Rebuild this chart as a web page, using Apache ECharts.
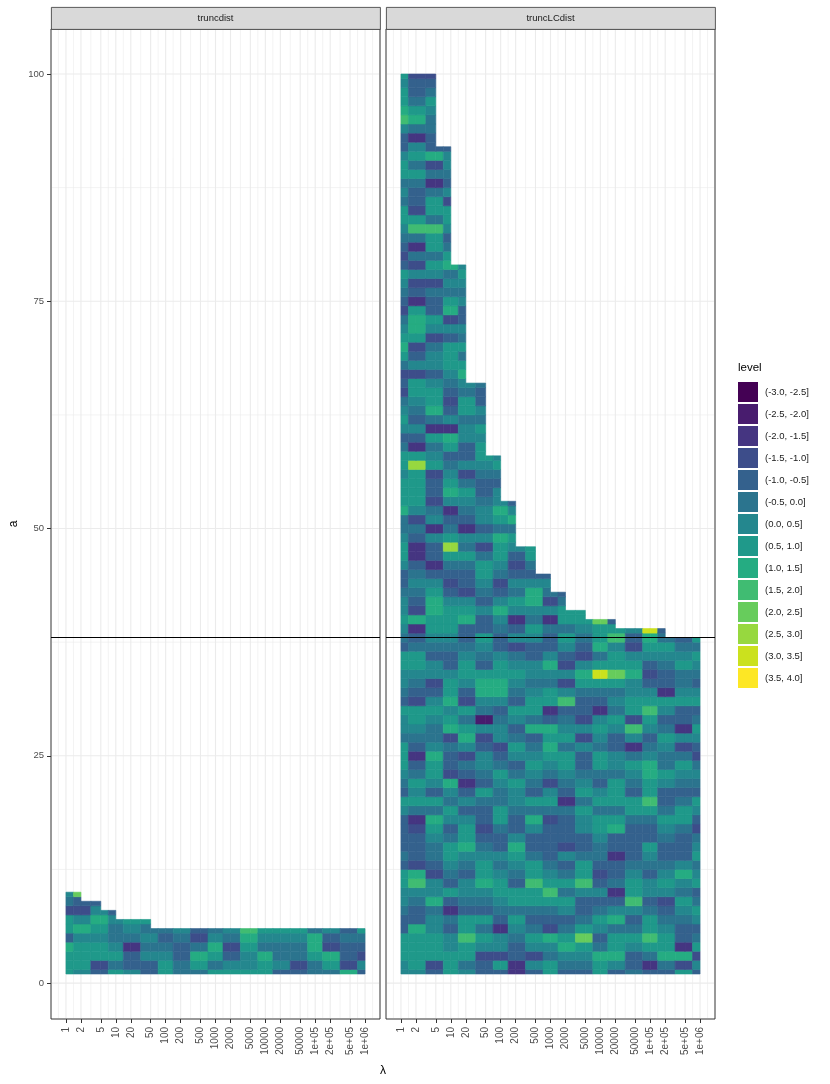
<!DOCTYPE html>
<html>
<head>
<meta charset="utf-8">
<title>truncdist / truncLCdist</title>
<script src="https://cdn.jsdelivr.net/npm/echarts@6/dist/echarts.min.js"></script>
<style>
  html, body { margin: 0; padding: 0; background: #fff; }
  #main { width: 830px; height: 1084px; }
</style>
</head>
<body>
<div id="main"></div>
<script>
// λ breaks (log axis) and their labels
var lambdas = [1, 2, 5, 10, 20, 50, 100, 200, 500, 1000, 2000, 5000, 1e4, 2e4, 5e4, 1e5, 2e5, 5e5, 1e6];
var lambdaLabels = ['1', '2', '5', '10', '20', '50', '100', '200', '500', '1000', '2000', '5000',
  '10000', '20000', '50000', '1e+05', '2e+05', '5e+05', '1e+06'];
var aTicks = [0, 25, 50, 75, 100];
var panelNames = ['truncdist', 'truncLCdist'];
var hlineA = 38;

// highest a for each λ
var topsTrunc = [10, 10, 9, 8, 7, 7, 6, 6, 6, 6, 6, 6, 6, 6, 6, 6, 6, 6, 6];
var topsLC = [100, 100, 100, 92, 79, 66, 58, 53, 48, 45, 43, 41, 40, 40, 39, 39, 39, 38, 38];

// level class of each grid point, one string per λ, a = 1, 2, 3 ... upward
// 0 = (-3.0,-2.5]  1 = (-2.5,-2.0] ... 9 = (1.5,2.0]  a = (2.0,2.5] ... d = (3.5,4.0]
var levelsTrunc = [
  '7778477356', '677768634a', '437767864', '75765564', '6442567', '4465657',
  '776545', '554456', '578534', '757865', '764356', '766789', '778567',
  '465567', '435567', '557885', '578346', '834454', '463457'
];
var levelsLC = [
  '6677744566 7745444467 4567775667 4566774567 6654467765 5877767754 6765343578 7653456743 4567756577 6446987767',
  '6777784456 9834443257 6754245677 3456775428 3456542245 367777b724 6456773643 7887243635 2597344575 7625875443',
  '4377766586 6345567857 4677865567 6436645677 8876424462 6534437657 2587764665 3674453675 7795775253 8445567543',
  '7776645247 4567754675 6834453876 8776445677 7643457b75 4268765478 2643456777 4638756587 5467736456 64',
  '6577977456 6456877646 4245368757 3467765448 7634457562 4567536446 6577568757 564465676',
  '4436757456 8776543445 7456643615 6887456744 6456775364 6654456776 756445',
  '4736624567 7656445775 5675436654 6887764456 8643567785 78664576',
  '2244567577 4567864456 6754675467 4567653642 6756434675 864',
  '4636754577 9775446857 4567654857 7656644675 68864577',
  '7756834579 7654444357 6356787842 7756864452 63564',
  '4568754675 7546344452 4567757654 9636346757 754',
  '4567a75446 9775446675 7654463634 4578634567 7',
  '7785467546 4345567757 6457756762 457c75877a',
  '4687758642 5442448757 7756644675 657a776974',
  '5446754697 7654444577 4567526937 766876346',
  '4257977546 6456744579 7788654679 76434678c',
  '4587765436 7654456754 4675567546 724456754',
  '7382445675 6864445775 4567536244 76557654',
  '4637546754 7657653467 4565346754 76456757'
];

var levelLabels = ['(-3.0, -2.5]', '(-2.5, -2.0]', '(-2.0, -1.5]', '(-1.5, -1.0]', '(-1.0, -0.5]',
  '(-0.5, 0.0]', '(0.0, 0.5]', '(0.5, 1.0]', '(1.0, 1.5]', '(1.5, 2.0]', '(2.0, 2.5]',
  '(2.5, 3.0]', '(3.0, 3.5]', '(3.5, 4.0]'];
var levelColors = ['#440154', '#481C6E', '#453581', '#3D4D8A', '#34618D', '#2B748E', '#24878E',
  '#1F998A', '#25AC82', '#40BC72', '#67CC5C', '#97D83F', '#CBE11E', '#FDE725'];

var FONT = '"Liberation Sans", Arial, sans-serif';
var lambdaPos = lambdas.map(function (l) { return Math.log10(l); });

// grid points -> [log10 λ, a, value, λ index]
function buildCells(levels) {
  var out = [];
  levels.forEach(function (s, i) {
    s = s.replace(/ /g, '');
    for (var k = 0; k < s.length; k++) {
      var lev = parseInt(s.charAt(k), 16);
      out.push([lambdaPos[i], k + 1, -3 + 0.5 * lev + 0.25, i]);
    }
  });
  return out;
}

// each grid point fills half way to its neighbours, clipped to the data region
function heatRenderer(tops) {
  return function (params, api) {
    var i = api.value(3), a = api.value(1);
    var color = api.visual('color');
    var children = [];
    [-1, 1].forEach(function (side) {
      var j = i + side;
      if (j < 0 || j >= lambdas.length) return;
      var top = Math.min(tops[i], tops[j]);
      if (a > top) return;
      var y0 = Math.max(1, a - 0.5), y1 = Math.min(top, a + 0.5);
      var p0 = api.coord([lambdaPos[i], y0]);
      var p1 = api.coord([lambdaPos[i], y1]);
      var pj = api.coord([lambdaPos[j], y0]);
      var xm = (p0[0] + pj[0]) / 2;
      var xl = Math.min(p0[0], xm), xr = Math.max(p0[0], xm);
      children.push({
        type: 'rect',
        shape: { x: xl, y: p1[1], width: xr - xl, height: p0[1] - p1[1] },
        style: { fill: color, stroke: color, lineWidth: 0.6 }
      });
    });
    return { type: 'group', children: children };
  };
}

// panel grid lines: [0 = vertical / 1 = horizontal, position, minor flag]
var gridLineData = [];
lambdaPos.forEach(function (p) { gridLineData.push([0, p, 0]); });
var lpExt = [2 * lambdaPos[0] - lambdaPos[1]].concat(lambdaPos,
  [2 * lambdaPos[lambdaPos.length - 1] - lambdaPos[lambdaPos.length - 2]]);
for (var k = 0; k < lpExt.length - 1; k++) {
  var m = (lpExt[k] + lpExt[k + 1]) / 2;
  if (m > -0.3 && m < 6.3) gridLineData.push([0, m, 1]);
}
aTicks.forEach(function (t) { gridLineData.push([1, t, 0]); });
for (var k2 = 0; k2 < aTicks.length - 1; k2++) gridLineData.push([1, (aTicks[k2] + aTicks[k2 + 1]) / 2, 1]);

function gridLineRenderer(params, api) {
  var cs = params.coordSys;
  var horiz = api.value(0) === 1, pos = api.value(1), minor = api.value(2) === 1;
  var shape;
  if (horiz) {
    var y = api.coord([0, pos])[1];
    shape = { x1: cs.x + 1, y1: y, x2: cs.x + cs.width - 1, y2: y };
  } else {
    var x = api.coord([pos, 0])[0];
    shape = { x1: x, y1: cs.y + 1, x2: x, y2: cs.y + cs.height - 1 };
  }
  return { type: 'line', shape: shape, style: { stroke: '#EBEBEB', lineWidth: minor ? 0.6 : 1.1 } };
}

function labelFor(v) {
  for (var i = 0; i < lambdaPos.length; i++) {
    if (Math.abs(lambdaPos[i] - v) < 1e-6) return lambdaLabels[i];
  }
  return '';
}

var myChart = echarts.init(document.getElementById('main'));

var grids = [
  { left: 51, top: 29, width: 329, height: 990 },
  { left: 386, top: 29, width: 329, height: 990 }
];

var xAxes = grids.map(function (g, gi) {
  return {
    type: 'value', gridIndex: gi, min: -0.3, max: 6.3,
    axisLine: { show: false, onZero: false },
    splitLine: { show: false },
    axisTick: { show: true, customValues: lambdaPos, length: 4, lineStyle: { color: '#333333', width: 1 } },
    axisLabel: {
      customValues: lambdaPos, rotate: 90, margin: 8, fontSize: 10, color: '#4D4D4D',
      fontFamily: FONT, formatter: labelFor
    }
  };
});

var yAxes = grids.map(function (g, gi) {
  return {
    type: 'value', gridIndex: gi, min: -3.95, max: 104.95,
    name: gi === 0 ? 'a' : '', nameLocation: 'middle', nameGap: 31, nameRotate: 90,
    nameTextStyle: { fontSize: 12, color: '#000', fontFamily: FONT },
    axisLine: { show: false, onZero: false },
    splitLine: { show: false },
    axisTick: { show: gi === 0, customValues: aTicks, length: 4, lineStyle: { color: '#333333', width: 1 } },
    axisLabel: { show: gi === 0, customValues: aTicks, margin: 7, fontSize: 9.5, color: '#4D4D4D', fontFamily: FONT }
  };
});

var hline = {
  silent: true, symbol: ['none', 'none'], label: { show: false },
  lineStyle: { color: '#000', width: 1.2, type: 'solid' },
  emphasis: { disabled: true },
  data: [{ yAxis: hlineA }]
};

var option = {
  animation: false,
  backgroundColor: '#fff',
  grid: grids.map(function (g) {
    return Object.assign({ show: true, borderColor: '#333333', borderWidth: 1, backgroundColor: '#fff' }, g);
  }),
  xAxis: xAxes,
  yAxis: yAxes,
  visualMap: {
    type: 'piecewise', seriesIndex: [2, 3], dimension: 2, orient: 'vertical',
    left: 738, top: 382, padding: 0, inverse: true, align: 'left',
    itemWidth: 20, itemHeight: 20, itemGap: 2, itemSymbol: 'rect', textGap: 7, showLabel: true,
    textStyle: { fontSize: 9.5, color: '#1A1A1A', fontFamily: FONT },
    pieces: levelColors.map(function (c, k) {
      return { gt: -3 + 0.5 * k, lte: -2.5 + 0.5 * k, label: levelLabels[k], color: c };
    })
  },
  graphic: [
    { type: 'rect', left: 51, top: 7, shape: { width: 329, height: 22 }, style: { fill: '#D9D9D9', stroke: '#333333', lineWidth: 0.8 } },
    { type: 'rect', left: 386, top: 7, shape: { width: 329, height: 22 }, style: { fill: '#D9D9D9', stroke: '#333333', lineWidth: 0.8 } },
    { type: 'text', x: 215.5, y: 18, style: { text: panelNames[0], align: 'center', verticalAlign: 'middle', fontSize: 9.5, fill: '#1A1A1A', fontFamily: FONT } },
    { type: 'text', x: 550.5, y: 18, style: { text: panelNames[1], align: 'center', verticalAlign: 'middle', fontSize: 9.5, fill: '#1A1A1A', fontFamily: FONT } },
    { type: 'text', x: 383, y: 1071, style: { text: 'λ', align: 'center', verticalAlign: 'middle', fontSize: 12, fill: '#000', fontFamily: FONT } },
    { type: 'text', x: 738, y: 368, style: { text: 'level', align: 'left', verticalAlign: 'middle', fontSize: 11.5, fill: '#000', fontFamily: FONT } }
  ],
  series: [
    { type: 'custom', xAxisIndex: 0, yAxisIndex: 0, z: 1, silent: true, renderItem: gridLineRenderer, data: gridLineData },
    { type: 'custom', xAxisIndex: 1, yAxisIndex: 1, z: 1, silent: true, renderItem: gridLineRenderer, data: gridLineData },
    { type: 'custom', name: panelNames[0], xAxisIndex: 0, yAxisIndex: 0, z: 2, silent: true,
      renderItem: heatRenderer(topsTrunc), data: buildCells(levelsTrunc), markLine: hline },
    { type: 'custom', name: panelNames[1], xAxisIndex: 1, yAxisIndex: 1, z: 2, silent: true,
      renderItem: heatRenderer(topsLC), data: buildCells(levelsLC), markLine: hline }
  ]
};

myChart.setOption(option);
</script>
</body>
</html>
